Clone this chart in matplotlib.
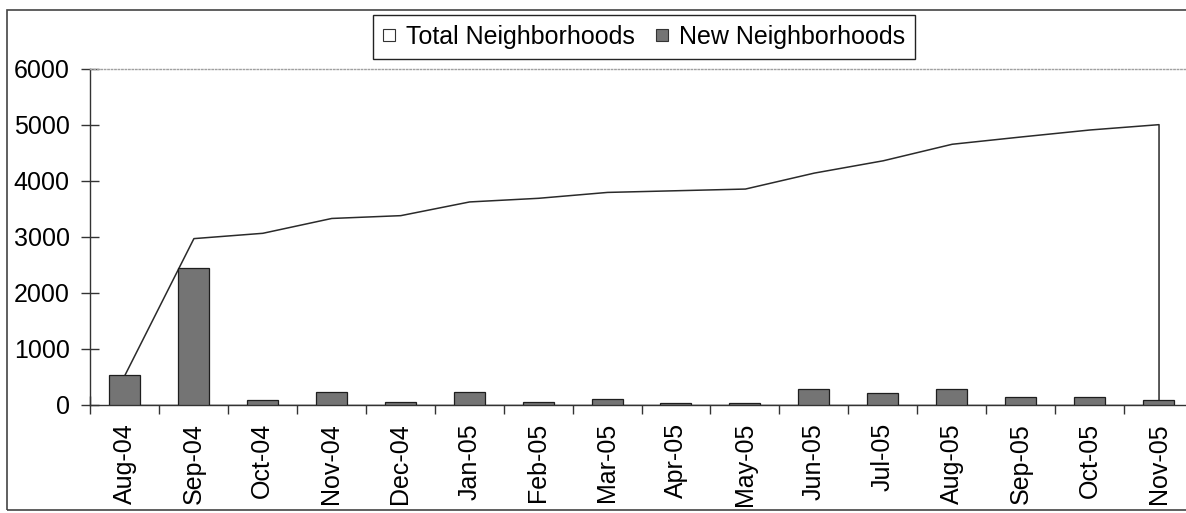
import numpy as np
import matplotlib
matplotlib.use("Agg")
import matplotlib.pyplot as plt
from matplotlib.lines import Line2D
from matplotlib.patches import Rectangle

plt.rcParams['font.family'] = ['Liberation Sans', 'DejaVu Sans']

months = ["Aug-04", "Sep-04", "Oct-04", "Nov-04", "Dec-04", "Jan-05", "Feb-05", "Mar-05",
          "Apr-05", "May-05", "Jun-05", "Jul-05", "Aug-05", "Sep-05", "Oct-05", "Nov-05"]
total_neighborhoods = [540, 2980, 3075, 3340, 3390, 3635, 3700, 3805,
                       3835, 3865, 4150, 4370, 4665, 4795, 4920, 5015]
new_neighborhoods = [540, 2440, 95, 240, 55, 235, 60, 105,
                     30, 30, 287, 215, 285, 135, 135, 90]
y_ticks = [0, 1000, 2000, 3000, 4000, 5000, 6000]

FS = 18
BAR_COLOR = '#747474'
LINE_COLOR = '#2a2a2a'


def style_axes(ax):
    ax.spines['right'].set_visible(False)
    for s in ['left', 'bottom']:
        ax.spines[s].set_color('#333333')
        ax.spines[s].set_linewidth(1.0)
    # dotted border at the top of the plot area
    ax.spines['top'].set_color('#a0a0a0')
    ax.spines['top'].set_linestyle((0, (1, 1.5)))
    ax.spines['top'].set_linewidth(1.0)


def square(face, label):
    return Line2D([], [], linestyle='none', marker='s', markersize=8,
                  markerfacecolor=face, markeredgecolor='#333333', markeredgewidth=0.8,
                  label=label)


fig = plt.figure(figsize=(11.86, 5.13), dpi=100)
ax = fig.add_axes([90 / 1186, 108 / 513, 1103 / 1186, 336 / 513])
style_axes(ax)

x = np.arange(len(months))

# cumulative total as a white area with an outline, bars drawn over it
ax.fill_between(x, total_neighborhoods, 0, facecolor='white', edgecolor=LINE_COLOR,
                linewidth=1.1, zorder=2)
ax.bar(x, new_neighborhoods, width=0.45, color=BAR_COLOR, edgecolor='#1e1e1e',
       linewidth=0.9, zorder=3)

ax.set_xlim(-0.5, len(months) - 0.5)
ax.set_ylim(0, 6000)
ax.set_yticks(y_ticks)
ax.set_yticklabels([str(v) for v in y_ticks], fontsize=FS)
ax.tick_params(axis='y', direction='inout', length=13, width=1.0, color='#333333', pad=8)

# category ticks sit on the boundaries, labels on the centres
ax.set_xticks(np.arange(len(months) + 1) - 0.5)
ax.set_xticklabels([])
ax.set_xticks(x, minor=True)
ax.set_xticklabels(months, minor=True, rotation=90, fontsize=FS, ha='center', va='top')
ax.tick_params(axis='x', which='major', direction='inout', length=13, width=1.0, color='#333333')
ax.tick_params(axis='x', which='minor', length=0, pad=13)

handles = [square('white', 'Total Neighborhoods'), square(BAR_COLOR, 'New Neighborhoods')]
leg = fig.legend(handles=handles, loc='center', bbox_to_anchor=(644 / 1186, 1 - 37 / 513),
                 ncol=2, fontsize=FS, frameon=True, fancybox=False, framealpha=1,
                 handlelength=0.5, handletextpad=0.45, columnspacing=0.8,
                 borderpad=0.4, borderaxespad=0)
leg.get_frame().set_edgecolor('#222222')
leg.get_frame().set_linewidth(1.0)

# outer chart border, running off the right edge
fig.patches.append(Rectangle((7 / 1186, 3 / 513), 1.05, 500 / 513, transform=fig.transFigure,
                             fill=False, edgecolor='#444444', linewidth=1.2))

fig.savefig('out.png', dpi=100)
